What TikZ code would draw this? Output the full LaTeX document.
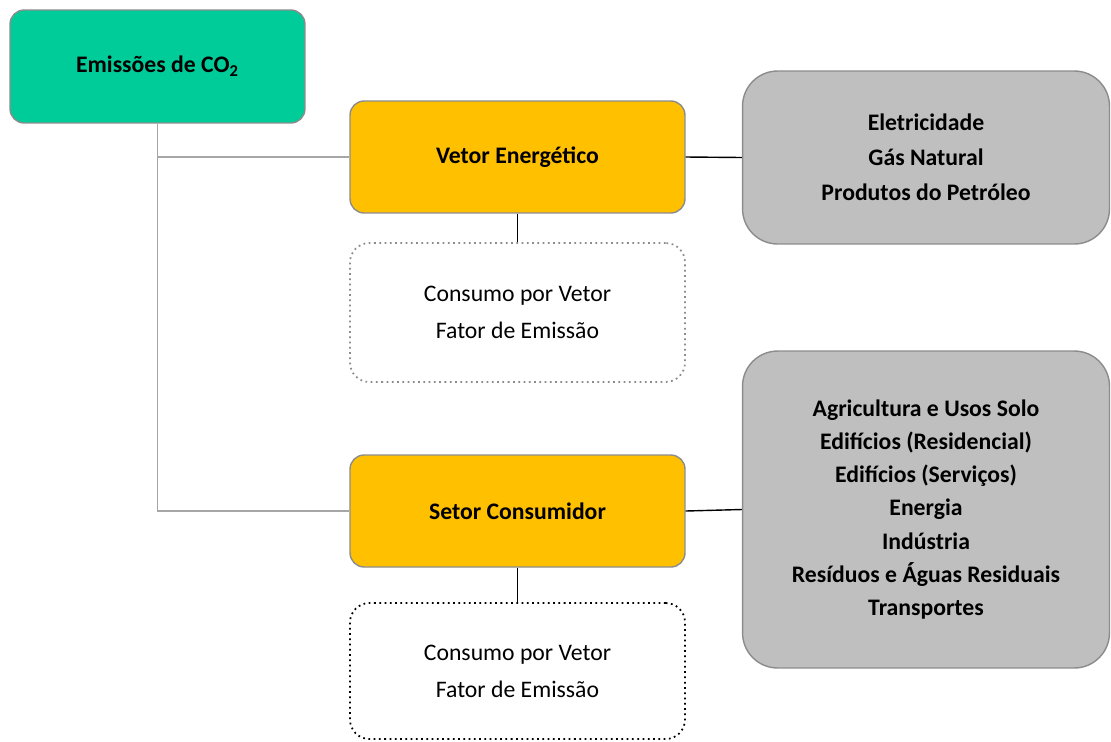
\documentclass[tikz,border=0pt]{standalone}
\usepackage{fontspec}
\setmainfont{Carlito}
\usepackage{tikz}

\definecolor{verdeco}{HTML}{00CC99}
\definecolor{laranja}{HTML}{FFC000}
\definecolor{cinza}{HTML}{BFBFBF}
\definecolor{borda}{HTML}{8C8C8C}
\definecolor{linha}{HTML}{A6A6A6}

\begin{document}
\begin{tikzpicture}[x=0.02cm,y=-0.02cm,
  caixa/.style={draw=borda,line width=0.8pt,align=center,inner sep=0pt,
    font=\fontsize{13.5}{18}\selectfont\bfseries},
  topo/.style={caixa,fill=verdeco,rounded corners=8pt,minimum width=5.9cm,minimum height=2.26cm},
  eixo/.style={caixa,fill=laranja,rounded corners=8pt,minimum width=6.7cm,minimum height=2.24cm},
  lista/.style={caixa,fill=cinza,rounded corners=20pt,minimum width=7.34cm,
    font=\fontsize{13.5}{#1}\selectfont\bfseries},
  calc/.style={draw=#1,dotted,line width=1pt,rounded corners=11pt,align=center,inner sep=0pt,
    minimum width=6.7cm,font=\fontsize{13.5}{21}\selectfont}]
\useasboundingbox (0,0) rectangle (1111,741);

\node [topo] (emissoes) at (157.5,66.5) {Emissões de CO\textsubscript{2}};
\node [eixo] (vetor) at (517.5,157) {Vetor Energético};
\node [eixo] (setor) at (517.5,511) {Setor Consumidor};
\node [calc=borda,minimum height=2.78cm] (consvetor) at (517.5,312.5)
  {Consumo por Vetor\\Fator de Emissão};
\node [calc=black,minimum height=2.72cm] (conssetor) at (517.5,671)
  {Consumo por Vetor\\Fator de Emissão};
\node [lista=20,minimum height=3.46cm] (listvetor) at (926,157.5)
  {Eletricidade\\Gás Natural\\Produtos do Petróleo};
\node [lista=18.8,minimum height=6.34cm] (listsetor) at (926,509.5)
  {Agricultura e Usos Solo\\Edifícios (Residencial)\\Edifícios (Serviços)\\Energia\\Indústria\\Resíduos e Águas Residuais\\Transportes};

\draw [linha,line width=0.8pt] (emissoes.south) |- (vetor.west);
\draw [linha,line width=0.8pt] (emissoes.south) |- (setor.west);
\draw [line width=0.8pt] (vetor.east) -- (listvetor.west);
\draw [line width=0.8pt] (vetor.south) -- (consvetor.north);
\draw [line width=0.8pt] (setor.east) -- (listsetor.west);
\draw [line width=0.8pt] (setor.south) -- (conssetor.north);
\end{tikzpicture}
\end{document}
